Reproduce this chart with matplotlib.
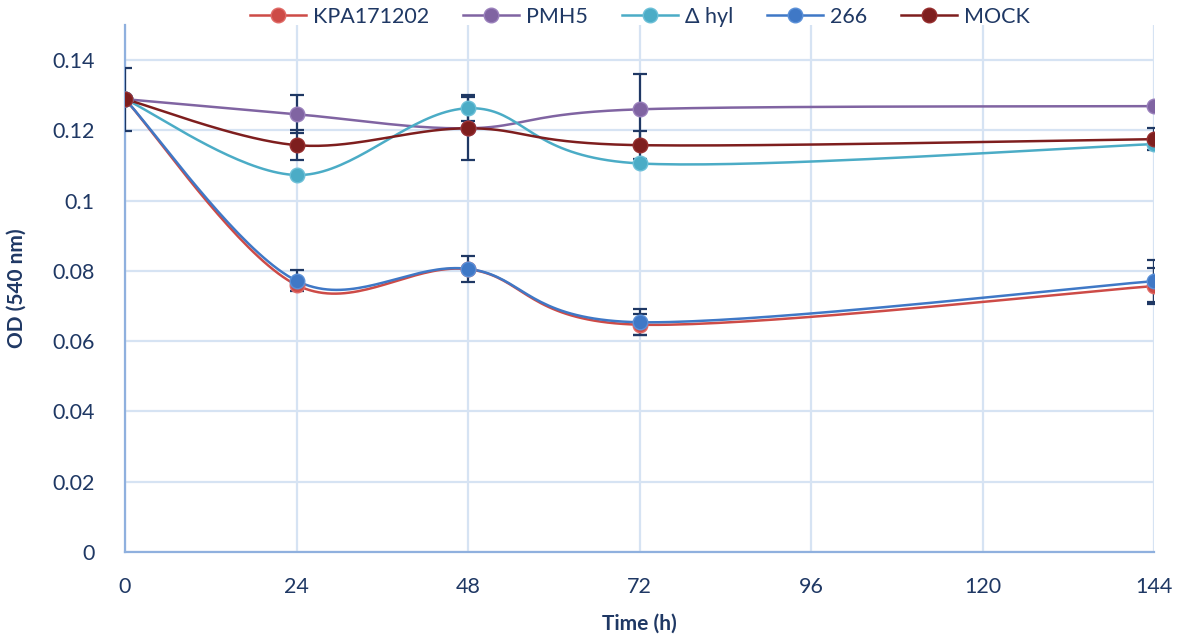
import numpy as np
import matplotlib
matplotlib.use("Agg")
import matplotlib.pyplot as plt
from matplotlib.lines import Line2D

plt.rcParams['font.family'] = ['Lato', 'DejaVu Sans']

time_h = [0, 24, 48, 72, 144]
series_names = ["KPA171202", "PMH5", "\u0394 hyl", "266", "MOCK"]
kpa = [0.1289, 0.0760, 0.0805, 0.0647, 0.0757]
pmh5 = [0.1289, 0.1246, 0.1206, 0.1260, 0.1269]
dhyl = [0.1289, 0.1073, 0.1263, 0.1106, 0.1161]
s266 = [0.1289, 0.0772, 0.0806, 0.0654, 0.0771]
mock = [0.1289, 0.1158, 0.1206, 0.1158, 0.1175]
# error bars (0 = not shown)
kpa_err = [0, 0, 0, 0.0030, 0.0050]
pmh5_err = [0, 0.0054, 0, 0.0100, 0]
dhyl_err = [0, 0, 0.0037, 0, 0]
s266_err = [0, 0.0030, 0.0037, 0.0037, 0.0060]
mock_err = [0.0090, 0.0042, 0.0090, 0.0040, 0.0031]

colors = ["#CD4B47", "#8064A2", "#4BACC6", "#3F78C6", "#7E1E1E"]
edge = ["#E06A66", "#9A80BC", "#6CC0D8", "#5A90D8", "#962E2E"]
err_color = "#1F3864"
text_color = "#1F3864"


def excel_smooth(x, y, n=40):
    x = np.asarray(x, float)
    y = np.asarray(y, float)
    sx = 1.0 / 144.0
    sy = 1.0 / 0.15 * (492 / 1029)
    P = np.column_stack([x * sx, y * sy])
    pts = []
    m = len(P)
    for i in range(m - 1):
        p0 = P[i - 1] if i > 0 else P[i]
        p1 = P[i]
        p2 = P[i + 1]
        p3 = P[i + 2] if i + 2 < m else P[i + 1]
        c1 = p1 + (p2 - p0) / 6.0
        c2 = p2 - (p3 - p1) / 6.0
        t = np.linspace(0, 1, n)[:, None]
        b = ((1 - t) ** 3) * p1 + 3 * ((1 - t) ** 2) * t * c1 + 3 * (1 - t) * t ** 2 * c2 + t ** 3 * p2
        if i > 0:
            b = b[1:]
        pts.append(b)
    pts = np.vstack(pts)
    return pts[:, 0] / sx, pts[:, 1] / sy


fig = plt.figure(figsize=(11.78, 6.38), dpi=100)
ax = fig.add_axes([125 / 1178, 1 - 552 / 638, 1029 / 1178, 527 / 638])

all_y = [kpa, pmh5, dhyl, s266, mock]
all_e = [kpa_err, pmh5_err, dhyl_err, s266_err, mock_err]

for yv, c, ec in zip(all_y, colors, edge):
    xs, ys = excel_smooth(time_h, yv)
    ax.plot(xs, ys, color=c, lw=1.8, zorder=3, solid_capstyle='round')

for yv, ev in zip(all_y, all_e):
    xs = [t for t, e in zip(time_h, ev) if e > 0]
    ys = [v for v, e in zip(yv, ev) if e > 0]
    es = [e for e in ev if e > 0]
    ax.errorbar(xs, ys, yerr=es, fmt='none', ecolor=err_color, elinewidth=1.6,
                capsize=5, capthick=1.6, zorder=4)

for yv, c, ec in zip(all_y, colors, edge):
    ax.plot(time_h, yv, 'o', color=c, mec=ec, mew=1.0, ms=10.5, zorder=5)

ax.set_xlim(0, 144)
ax.set_ylim(0, 0.15)
ax.set_xticks([0, 24, 48, 72, 96, 120, 144])
ax.set_yticks([0, 0.02, 0.04, 0.06, 0.08, 0.1, 0.12, 0.14])
ax.set_yticklabels(["0", "0.02", "0.04", "0.06", "0.08", "0.1", "0.12", "0.14"])
ax.tick_params(length=0, labelsize=15.5, colors=text_color)
ax.tick_params(axis='x', pad=18)
ax.tick_params(axis='y', pad=22)
for lbl in ax.get_xticklabels() + ax.get_yticklabels():
    lbl.set_color(text_color)

ax.grid(True, color="#D6E3F3", lw=1.6, zorder=0)
ax.set_axisbelow(True)
for s in ["top", "right"]:
    ax.spines[s].set_visible(False)
for s in ["left", "bottom"]:
    ax.spines[s].set_color("#8FB0DE")
    ax.spines[s].set_linewidth(1.6)

ax.set_xlabel("Time (h)", fontsize=15, fontweight='bold', color=text_color, labelpad=12)
ax.set_ylabel("OD (540 nm)", fontsize=15, fontweight='bold', color=text_color, labelpad=18)

handles = [Line2D([0], [0], color=c, lw=1.8, marker='o', ms=10.5, mfc=c, mec=ec)
           for c, ec in zip(colors, edge)]
leg = fig.legend(handles, series_names, loc='center', bbox_to_anchor=(640 / 1178, 1 - 17 / 638),
                 ncol=5, frameon=False, fontsize=15.5, handlelength=2.6, columnspacing=1.6,
                 handletextpad=0.3)
for t in leg.get_texts():
    t.set_color(text_color)

fig.savefig("out.png", dpi=100)
